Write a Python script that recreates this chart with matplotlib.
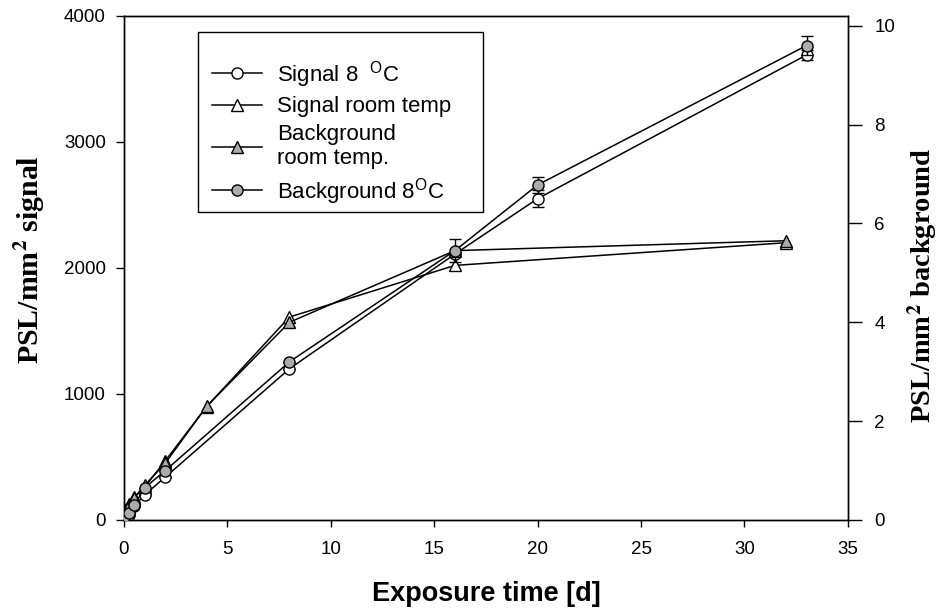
import matplotlib
matplotlib.use("Agg")
import matplotlib.pyplot as plt
from matplotlib.lines import Line2D
from matplotlib.patches import Rectangle

plt.rcParams['font.family'] = ['Liberation Sans', 'DejaVu Sans']
plt.rcParams['mathtext.fontset'] = 'custom'
plt.rcParams['mathtext.rm'] = 'Liberation Sans'
plt.rcParams['mathtext.it'] = 'Liberation Sans:italic'
plt.rcParams['mathtext.bf'] = 'Liberation Sans:bold'

# Data
x_8c = [0, 0.25, 0.5, 1, 2, 8, 16, 20, 33]
signal_8c = [0, 40, 110, 200, 340, 1200, 2110, 2550, 3690]
signal_8c_err = [0, 0, 0, 0, 0, 0, 0, 70, 40]
bg_8c = [0.05, 0.15, 0.3, 0.65, 1.0, 3.2, 5.45, 6.78, 9.6]
bg_8c_err = [0, 0, 0, 0, 0, 0, 0.24, 0.16, 0.2]

x_rt = [0, 0.25, 0.5, 1, 2, 4, 8, 16, 32]
signal_rt = [90, 130, 180, 260, 470, 900, 1610, 2020, 2200]
bg_rt = [0.15, 0.3, 0.45, 0.7, 1.15, 2.3, 4.0, 5.45, 5.65]

x_ticks = [0, 5, 10, 15, 20, 25, 30, 35]
left_ticks = [0, 1000, 2000, 3000, 4000]
right_ticks = [0, 2, 4, 6, 8, 10]

gray = '#ababab'
ms = 8

fig = plt.figure(figsize=(9.39, 6.11), dpi=100)
ax = fig.add_axes([0.132, 0.149, 0.771, 0.825])
ax2 = ax.twinx()

lw = 1.1
# room temperature series
ax.plot(x_rt, signal_rt, '-', color='black', lw=lw, marker='^', ms=ms,
        mfc='white', mec='black', mew=1.0, zorder=3)
ax2.plot(x_rt, bg_rt, '-', color='black', lw=lw, marker='^', ms=ms,
         mfc=gray, mec='black', mew=1.0, zorder=3)
# 8 C series
ax.errorbar(x_8c, signal_8c, yerr=signal_8c_err, fmt='-', color='black', lw=lw,
            marker='o', ms=ms, mfc='white', mec='black', mew=1.0,
            capsize=4, elinewidth=1.0, capthick=1.0, zorder=3)
ax2.errorbar(x_8c, bg_8c, yerr=bg_8c_err, fmt='-', color='black', lw=lw,
             marker='o', ms=ms, mfc=gray, mec='black', mew=1.0,
             capsize=4, elinewidth=1.0, capthick=1.0, zorder=4)

ax.set_xlim(0, 35)
ax.set_ylim(0, 4000)
ax2.set_ylim(0, 10.2)
ax.set_xticks(x_ticks)
ax.set_yticks(left_ticks)
ax2.set_yticks(right_ticks)

for a in (ax, ax2):
    a.tick_params(direction='out', width=1, labelsize=13.5, colors='black')
    for s in a.spines.values():
        s.set_linewidth(1.0)
ax.tick_params(axis='x', length=5, pad=10)
ax.tick_params(axis='y', length=6, pad=7)
ax2.tick_params(axis='y', length=10, pad=9)

ax.set_xlabel('Exposure time [d]', fontsize=19.5, fontweight='bold', labelpad=17)
ylab_kw = dict(fontweight='bold', family='Liberation Serif',
               math_fontfamily='stix', va='center', ha='center')
ax.set_ylabel(r'PSL/mm$^{\mathbf{2}}$ signal', fontsize=21.5, **ylab_kw)
ax2.set_ylabel(r'PSL/mm$^{\mathbf{2}}$ background', rotation=90, fontsize=20.5,
               **ylab_kw)
ax.yaxis.set_label_coords(-0.130, 0.516)
ax2.yaxis.set_label_coords(1.103, 0.466)

# legend box
box = Rectangle((0.102, 0.611), 0.394, 0.357, transform=ax2.transAxes,
                facecolor='white', edgecolor='black', lw=1.0, zorder=9)
ax2.add_patch(box)

handles = [
    Line2D([], [], color='black', lw=lw, marker='o', ms=ms, mfc='white', mec='black'),
    Line2D([], [], color='black', lw=lw, marker='^', ms=ms, mfc='white', mec='black'),
    Line2D([], [], color='black', lw=lw, marker='^', ms=ms, mfc=gray, mec='black'),
    Line2D([], [], color='black', lw=lw, marker='o', ms=ms, mfc=gray, mec='black'),
]
labels = ['Signal 8  $^{\\mathrm{O}}$C', 'Signal room temp',
          'Background\nroom temp.', 'Background 8$^{\\mathrm{O}}$C']
leg = ax2.legend(handles, labels, loc='upper left', bbox_to_anchor=(0.1215, 0.915),
                 frameon=False, fontsize=16,
                 handlelength=2.25, handletextpad=0.68, borderpad=0,
                 labelspacing=0.3, borderaxespad=0)
leg.set_zorder(10)

fig.savefig('out.png', dpi=100)
